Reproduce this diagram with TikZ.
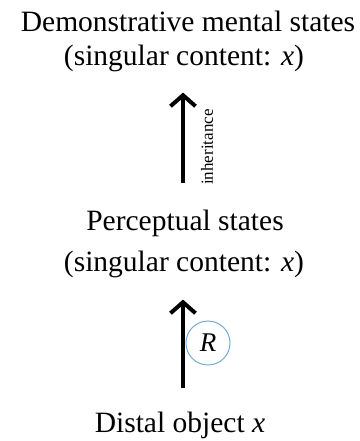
\documentclass[tikz,border=0pt]{standalone}
\usepackage{fontspec}
\setmainfont{Liberation Serif}
\usetikzlibrary{arrows.meta}

\begin{document}
\begin{tikzpicture}[x=1pt, y=1pt, >={Straight Barb[length=11pt,width=25pt]},
		label/.style={inner sep=0pt, anchor=base, font=\fontsize{29.5}{34}\selectfont},
		link/.style={->, line width=4pt}]
			\def\X{184} % Column of the diagram
			
			\useasboundingbox (0,0) rectangle (359,441);
			
			% Levels
			\node[label] (demo) at (\X+4,409) {Demonstrative mental states};
			\node[label] (demoSub) at (\X,375) {(singular content: \textit{x})};
			\node[label] (percept) at (\X+1,210) {Perceptual states};
			\node[label] (perceptSub) at (\X,169) {(singular content: \textit{x})};
			\node[label] (distal) at (\X-4,9) {Distal object \textit{x}};
			
			% Arrows
			\draw[link, shorten <=27pt, shorten >=20pt] (\X-1,0 |- percept.north) -- (\X-1,0 |- demoSub.south);
			\draw[link, shorten <=23pt, shorten >=21pt] (\X-1,0 |- distal.north) -- (\X-1,0 |- perceptSub.south);
			
			% Labels on arrows
			\node[rotate=90, inner sep=0pt, font=\fontsize{17}{20}\selectfont] (inherit) at (207,294) {inheritance};
			\node[circle, draw={rgb,255:red,120;green,170;blue,215}, line width=1pt, minimum size=44pt, inner sep=0pt,
				font=\fontsize{27}{30}\selectfont] (rel) at (208,98) {\textit{R}};
			
	\end{tikzpicture}
\end{document}
